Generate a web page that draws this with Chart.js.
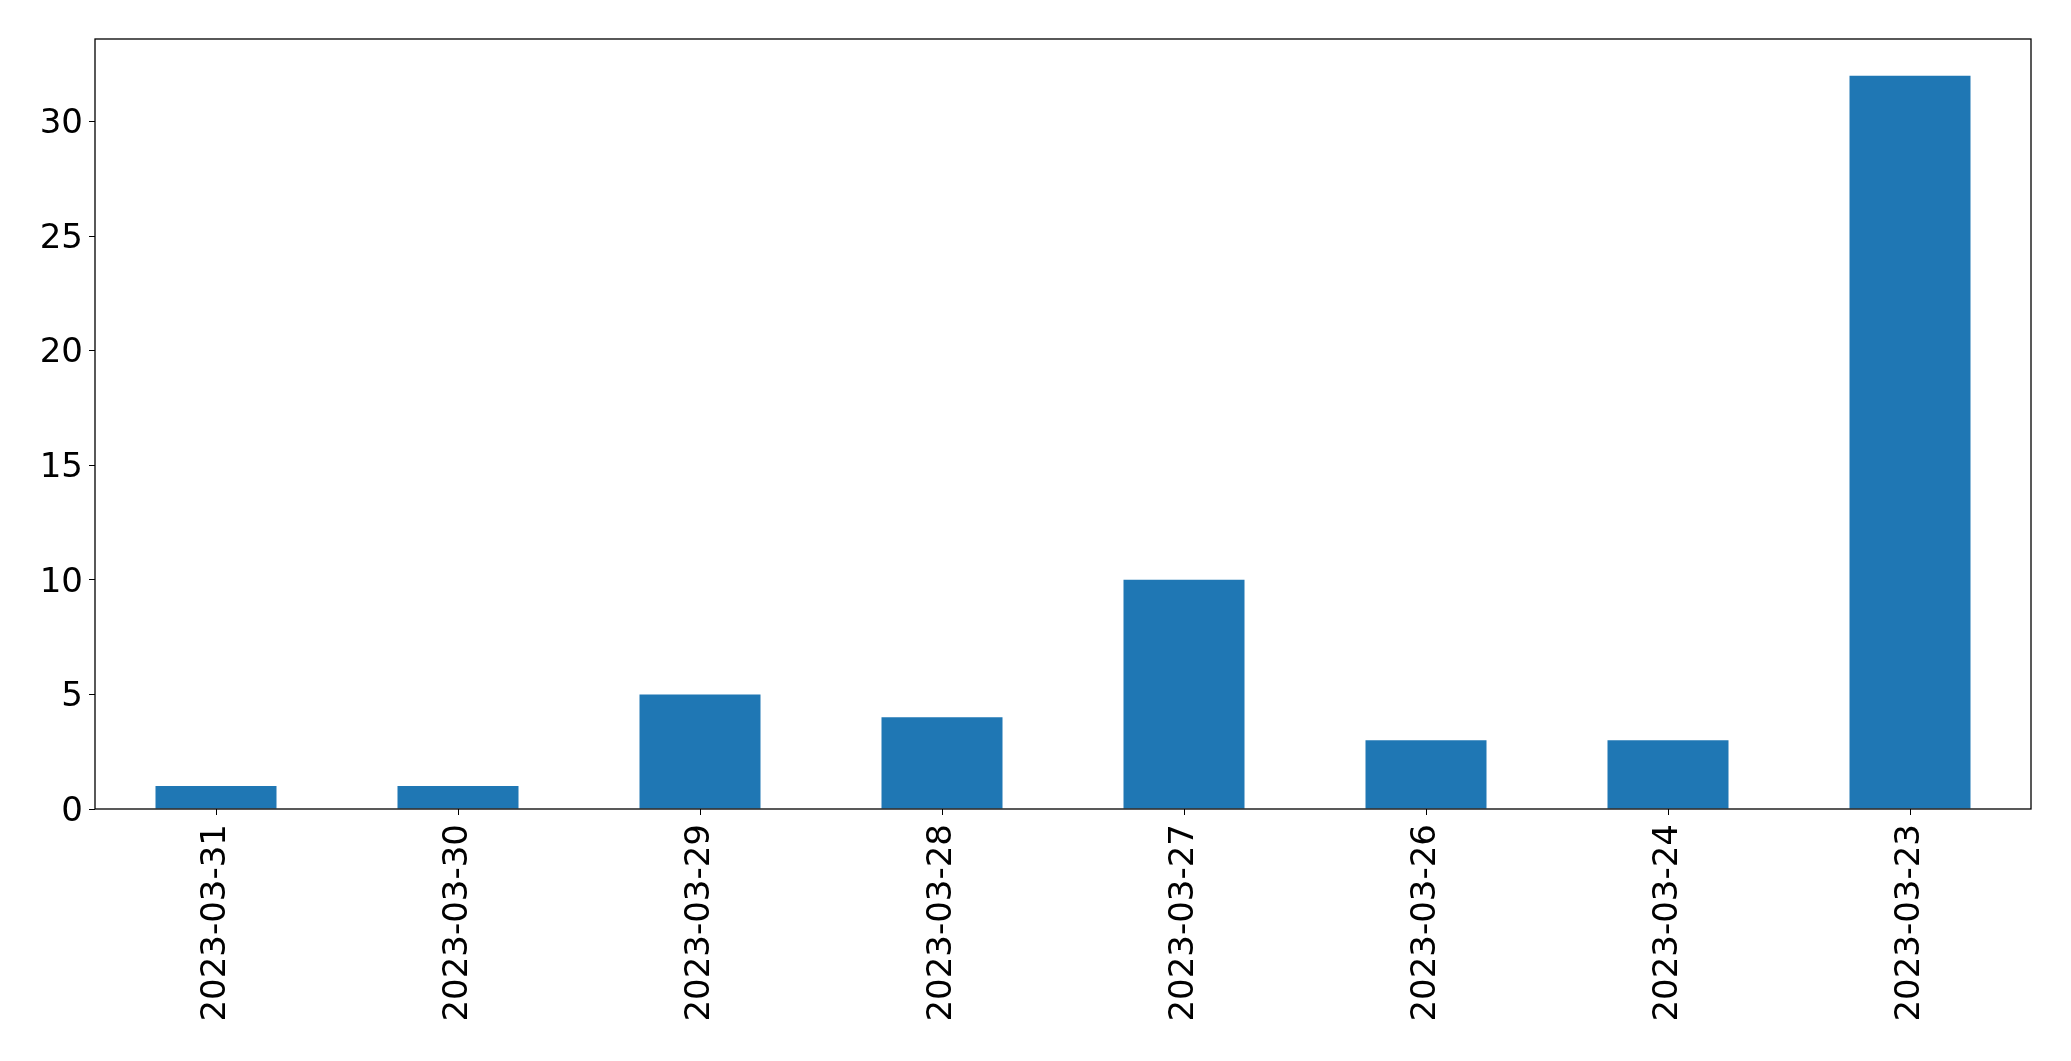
<!DOCTYPE html>
<html>
<head>
<meta charset="utf-8">
<script src="https://cdn.jsdelivr.net/npm/chart.js@4"></script>
<style>
  html, body { margin: 0; padding: 0; background: #fff; }
  #wrap { width: 2071px; height: 1061px; }
</style>
</head>
<body>
<div id="wrap"><canvas id="chart"></canvas></div>
<script>
// data
const dates = ['2023-03-31', '2023-03-30', '2023-03-29', '2023-03-28', '2023-03-27', '2023-03-26', '2023-03-24', '2023-03-23'];
const counts = [1, 1, 5, 4, 10, 3, 3, 32];
const yTicks = [0, 5, 10, 15, 20, 25, 30];

const tickFont = { family: "'DejaVu Sans', sans-serif", size: 34 };

// box around the plot area, like matplotlib's spines
const frame = {
    id: 'frame',
    afterDraw(chart) {
        const a = chart.chartArea;
        const ctx = chart.ctx;
        ctx.save();
        ctx.strokeStyle = '#000';
        ctx.lineWidth = 1.3;
        ctx.strokeRect(a.left, a.top, a.right - a.left, a.bottom - a.top);
        ctx.restore();
    }
};

new Chart(document.getElementById('chart'), {
    type: 'bar',
    data: {
        labels: dates,
        datasets: [{
            data: counts,
            backgroundColor: '#1f77b4',
            barPercentage: 0.5,
            categoryPercentage: 1.0
        }]
    },
    options: {
        responsive: true,
        maintainAspectRatio: false,
        animation: false,
        layout: { padding: { top: 39, right: 40, left: 0, bottom: 0 } },
        plugins: {
            legend: { display: false },
            tooltip: { enabled: false }
        },
        scales: {
            x: {
                offset: true,
                grid: { display: true, drawOnChartArea: false, tickLength: 6, color: '#000', offset: false },
                border: { display: false },
                ticks: {
                    color: '#000',
                    font: tickFont,
                    minRotation: 90,
                    maxRotation: 90,
                    padding: 9
                },
                afterFit(scale) { scale.height = 252; }
            },
            y: {
                min: 0,
                max: 33.6,
                grid: { display: true, drawOnChartArea: false, tickLength: 6, color: '#000' },
                border: { display: false },
                ticks: {
                    color: '#000',
                    font: tickFont,
                    stepSize: 5,
                    padding: 6,
                    labelOffset: 3
                },
                afterBuildTicks(scale) {
                    scale.ticks = yTicks.map(v => ({ value: v }));
                },
                afterFit(scale) { scale.width = 95; }
            }
        }
    },
    plugins: [frame]
});
</script>
</body>
</html>
